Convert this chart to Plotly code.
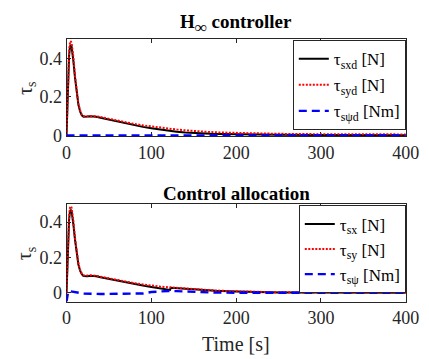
import plotly.graph_objects as go

# ---------------- data ----------------
t_top = [0, 1, 2, 3, 4, 5, 6, 7, 8, 10, 12, 14, 16, 18, 20, 22, 25, 28, 30, 35, 40, 50, 60, 70, 80, 90,
         100, 110, 120, 130, 140, 150, 160, 170, 180, 200, 220, 250, 300, 350, 400]
tau_sxd = [0, 0.15, 0.30, 0.41, 0.46, 0.47, 0.46, 0.43, 0.39, 0.30, 0.22, 0.16, 0.125, 0.105, 0.098, 0.097,
           0.099, 0.100, 0.100, 0.097, 0.092, 0.082, 0.072, 0.062, 0.053, 0.045,
           0.038, 0.031, 0.025, 0.020, 0.016, 0.013, 0.011, 0.009, 0.008, 0.006, 0.005, 0.004, 0.003, 0.002, 0.002]
tau_syd = [0, 0.17, 0.32, 0.43, 0.48, 0.49, 0.48, 0.45, 0.41, 0.31, 0.23, 0.165, 0.13, 0.108, 0.100, 0.100,
           0.102, 0.103, 0.103, 0.100, 0.096, 0.086, 0.077, 0.068, 0.060, 0.053,
           0.047, 0.041, 0.036, 0.031, 0.027, 0.023, 0.020, 0.018, 0.016, 0.013, 0.011, 0.009, 0.007, 0.006, 0.006]
tau_spsid = [0] * len(t_top)

t_bot = [0, 1, 2, 3, 4, 5, 6, 7, 8, 10, 12, 14, 16, 18, 20, 22, 25, 28, 30, 35, 40, 50, 60, 70, 80, 90,
         100, 110, 120, 122, 123, 130, 140, 150, 160, 175, 200, 220, 250, 300, 350, 400]
tau_sx = [0, 0.15, 0.30, 0.41, 0.46, 0.47, 0.46, 0.43, 0.39, 0.30, 0.22, 0.16, 0.125, 0.105, 0.095, 0.093,
          0.094, 0.096, 0.096, 0.093, 0.088, 0.078, 0.068, 0.058, 0.049, 0.041,
          0.033, 0.025, 0.018, 0.016, 0.028, 0.027, 0.023, 0.020, 0.016, 0.012, 0.007, 0.004, 0.002, 0.001, 0.0, 0.0]
tau_sy = [0, 0.17, 0.32, 0.43, 0.48, 0.49, 0.48, 0.45, 0.41, 0.31, 0.23, 0.165, 0.13, 0.108, 0.098, 0.096,
          0.097, 0.099, 0.099, 0.096, 0.091, 0.081, 0.071, 0.062, 0.054, 0.047,
          0.040, 0.035, 0.031, 0.030, 0.030, 0.028, 0.024, 0.021, 0.017, 0.013, 0.008, 0.005, 0.003, 0.001, 0.0, 0.0]
t_psi = [0, 0.5, 1, 2, 5, 10, 15, 20, 40, 80, 90, 100, 110, 120, 130, 150, 175, 200, 250, 300, 400]
tau_spsi = [-0.05, -0.03, 0.0, 0.008, 0.008, 0.004, 0.0, -0.005, -0.007, -0.007, -0.004, 0.004, 0.009,
            0.010, 0.009, 0.004, 0.001, 0.0, -0.001, -0.001, -0.001]

x_ticks = [0, 100, 200, 300, 400]
y_ticks = [0, 0.2, 0.4]
y_tick_text = ["0", "0.2", "0.4"]

# ---------------- figure ----------------
W, H = 429, 359
FONT = "Liberation Serif, Times New Roman, DejaVu Serif, serif"
AX = "#262626"

fig = go.Figure()

def line_style(kind):
    if kind == "k":
        return dict(color="black", width=2, dash="solid")
    if kind == "r":
        return dict(color="red", width=2, dash="2px,1.5px")
    return dict(color="blue", width=2.4, dash="8px,5px")

fig.add_trace(go.Scatter(x=t_top, y=tau_sxd, mode="lines", line=line_style("k"), legendgroup="a",
                         name="τ<sub>sxd</sub> [N]", xaxis="x", yaxis="y", legend="legend"))
fig.add_trace(go.Scatter(x=t_top, y=tau_syd, mode="lines", line=line_style("r"), legendgroup="b",
                         name="τ<sub>syd</sub> [N]", xaxis="x", yaxis="y", legend="legend"))
fig.add_trace(go.Scatter(x=t_top, y=tau_spsid, mode="lines", line=line_style("b"), legendgroup="c",
                         name="τ<sub>sψd</sub> [Nm]", xaxis="x", yaxis="y", legend="legend"))

fig.add_trace(go.Scatter(x=t_bot, y=tau_sx, mode="lines", line=line_style("k"), legendgroup="d",
                         name="τ<sub>sx</sub> [N]", xaxis="x2", yaxis="y2", legend="legend2"))
fig.add_trace(go.Scatter(x=t_bot, y=tau_sy, mode="lines", line=line_style("r"), legendgroup="e",
                         name="τ<sub>sy</sub> [N]", xaxis="x2", yaxis="y2", legend="legend2"))
fig.add_trace(go.Scatter(x=t_psi, y=tau_spsi, mode="lines", line=line_style("b"), legendgroup="f",
                         name="τ<sub>sψ</sub> [Nm]", xaxis="x2", yaxis="y2", legend="legend2"))

x0, x1 = 56 / W, 411 / W
top_dom = [1 - 132 / H, 1 - 32 / H]
bot_dom = [1 - 302 / H, 1 - 202 / H]

tick_font = dict(family=FONT, size=18, color="#262626")
axis_common = dict(showline=True, linecolor=AX, linewidth=1, mirror="ticks", ticks="inside",
                   ticklen=4, tickcolor=AX, showgrid=False, zeroline=False, layer="below traces",
                   tickfont=tick_font)

legend_font = dict(family=FONT, size=17, color="black")

fig.update_layout(
    width=W, height=H,
    margin=dict(l=0, r=0, t=0, b=0),
    paper_bgcolor="white", plot_bgcolor="white",
    font=dict(family=FONT, color="black", size=18),
    xaxis=dict(domain=[x0, x1], range=[0, 400], tickvals=x_ticks, anchor="y", **axis_common),
    yaxis=dict(domain=top_dom, range=[-0.004, 0.5], tickvals=y_ticks, ticktext=y_tick_text, anchor="x", **axis_common),
    xaxis2=dict(domain=[x0, x1], range=[0, 400], tickvals=x_ticks, anchor="y2", **axis_common),
    yaxis2=dict(domain=bot_dom, range=[-0.05, 0.5], tickvals=y_ticks, ticktext=y_tick_text, anchor="x2", **axis_common),
    legend=dict(x=x1, xanchor="right", y=1 - 33 / H, yanchor="top", bgcolor="white",
                bordercolor=AX, borderwidth=1, font=legend_font, tracegroupgap=1,
                itemwidth=30),
    legend2=dict(x=x1, xanchor="right", y=1 - 203 / H, yanchor="top", bgcolor="white",
                 bordercolor=AX, borderwidth=1, font=legend_font, tracegroupgap=0,
                 itemwidth=30),
    showlegend=True,
)

annotations = [
    dict(text="<b>H<span style='font-size:24px'><sub>∞</sub></span> controller</b>", x=(x0 + x1) / 2,
         y=1 - 1 / H, xref="paper", yref="paper",
         xanchor="center", yanchor="top", showarrow=False, font=dict(family=FONT, size=19, color="black")),
    dict(text="<b>Control allocation</b>", x=(x0 + x1) / 2, y=1 - 178 / H, xref="paper", yref="paper",
         xanchor="center", yanchor="top", showarrow=False, font=dict(family=FONT, size=19, color="black")),
    dict(text="Time [s]", x=(x0 + x1) / 2, y=1 - 332 / H, xref="paper", yref="paper",
         xanchor="center", yanchor="top", showarrow=False, font=dict(family=FONT, size=20, color="#262626")),
    dict(text="τ<sub>s</sub>", x=14 / W, y=1 - 82 / H, xref="paper", yref="paper", textangle=-90,
         xanchor="center", yanchor="middle", showarrow=False, font=dict(family=FONT, size=20, color="#262626")),
    dict(text="τ<sub>s</sub>", x=14 / W, y=1 - 252 / H, xref="paper", yref="paper", textangle=-90,
         xanchor="center", yanchor="middle", showarrow=False, font=dict(family=FONT, size=20, color="#262626")),
]
fig.update_layout(annotations=annotations)

fig.write_html("out.html")
